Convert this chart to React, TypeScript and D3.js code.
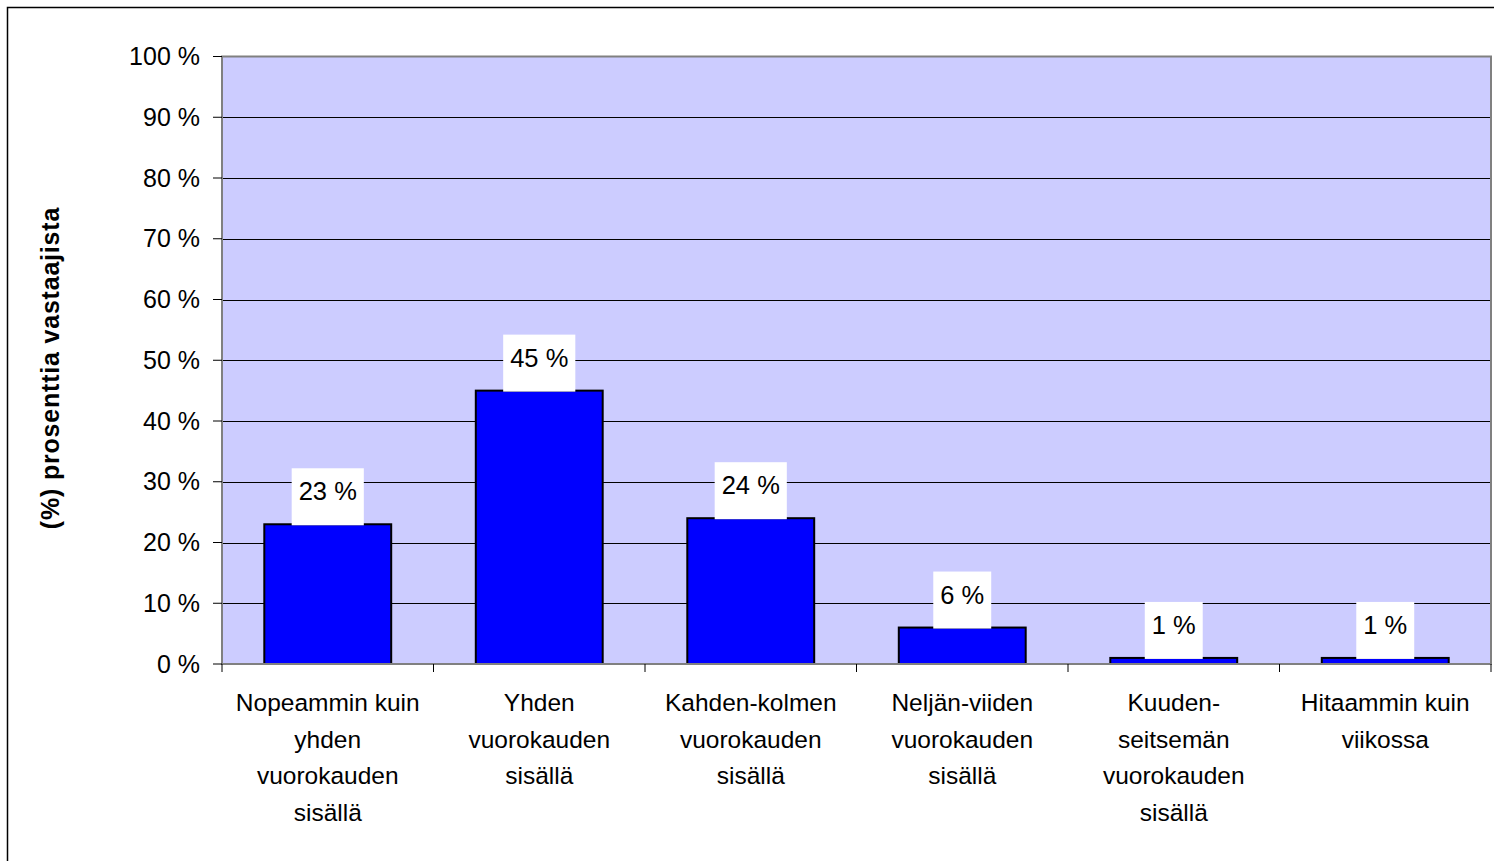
import React, { useEffect, useRef } from 'react';
import * as d3 from 'd3';

const categories = [
  ['Nopeammin kuin', 'yhden', 'vuorokauden', 'sisällä'],
  ['Yhden', 'vuorokauden', 'sisällä'],
  ['Kahden-kolmen', 'vuorokauden', 'sisällä'],
  ['Neljän-viiden', 'vuorokauden', 'sisällä'],
  ['Kuuden-', 'seitsemän', 'vuorokauden', 'sisällä'],
  ['Hitaammin kuin', 'viikossa'],
];
const values = [23, 45, 24, 6, 1, 1];
const yTicks = [0, 10, 20, 30, 40, 50, 60, 70, 80, 90, 100];
const yTitle = '(%) prosenttia vastaajista';

const App = () => {
  const ref = useRef<SVGSVGElement>(null);

  useEffect(() => {
    const svg = d3.select(ref.current);
    svg.selectAll('*').remove();

    const left = 222, right = 1491, top = 56.5, bottom = 664;
    const font = 'Arial, "Liberation Sans", sans-serif';

    // outer chart border (runs off the page right and bottom)
    svg.append('rect')
      .attr('x', 7.5).attr('y', 7.5)
      .attr('width', 1600).attr('height', 1000)
      .attr('fill', '#fff')
      .attr('stroke', '#000')
      .attr('stroke-width', 1.5);

    const x = d3.scaleBand<number>()
      .domain(values.map((d, i) => i))
      .range([left, right])
      .paddingInner(0.4)
      .paddingOuter(0.2);
    const y = d3.scaleLinear().domain([0, 100]).range([bottom, top]);
    const step = x.step();

    svg.append('rect')
      .attr('x', left).attr('y', top)
      .attr('width', right - left).attr('height', bottom - top)
      .attr('fill', '#ccccff');

    // gridlines
    svg.append('g').selectAll('line')
      .data(yTicks.filter(t => t > 0 && t < 100))
      .enter().append('line')
      .attr('x1', left).attr('x2', right)
      .attr('y1', d => Math.round(y(d)) + 0.5)
      .attr('y2', d => Math.round(y(d)) + 0.5)
      .attr('stroke', '#000')
      .attr('stroke-width', 1);

    // plot border
    svg.append('rect')
      .attr('x', left).attr('y', top)
      .attr('width', right - left).attr('height', bottom - top)
      .attr('fill', 'none')
      .attr('stroke', '#808080')
      .attr('stroke-width', 2);

    // bars
    svg.append('g').selectAll('rect')
      .data(values)
      .enter().append('rect')
      .attr('x', (d, i) => x(i)!)
      .attr('y', d => y(d))
      .attr('width', x.bandwidth())
      .attr('height', d => bottom - y(d))
      .attr('fill', '#0000ff')
      .attr('stroke', '#000')
      .attr('stroke-width', 2);

    // y axis
    const yAxis = svg.append('g');
    yAxis.append('line')
      .attr('x1', left).attr('x2', left)
      .attr('y1', top).attr('y2', bottom)
      .attr('stroke', '#808080').attr('stroke-width', 2);
    yTicks.forEach(t => {
      yAxis.append('line')
        .attr('x1', left - 9).attr('x2', left)
        .attr('y1', y(t)).attr('y2', y(t))
        .attr('stroke', '#000').attr('stroke-width', 1);
      yAxis.append('text')
        .attr('x', 200)
        .attr('y', y(t) + 8.5)
        .attr('text-anchor', 'end')
        .attr('font-family', font)
        .attr('font-size', 25)
        .attr('fill', '#000')
        .text(t + ' %');
    });

    // x axis
    const xAxis = svg.append('g');
    xAxis.append('line')
      .attr('x1', left).attr('x2', right)
      .attr('y1', bottom).attr('y2', bottom)
      .attr('stroke', '#808080').attr('stroke-width', 2);
    d3.range(values.length + 1).forEach(i => {
      const tx = left + i * step;
      xAxis.append('line')
        .attr('x1', tx).attr('x2', tx)
        .attr('y1', bottom).attr('y2', bottom + 8)
        .attr('stroke', '#000').attr('stroke-width', 1);
    });
    categories.forEach((lines, i) => {
      const cx = x(i)! + x.bandwidth() / 2;
      const t = xAxis.append('text')
        .attr('text-anchor', 'middle')
        .attr('font-family', font)
        .attr('font-size', 24.5)
        .attr('fill', '#000');
      lines.forEach((l, j) => {
        t.append('tspan').attr('x', cx).attr('y', 711 + j * 36.5).text(l);
      });
    });

    // data labels
    values.forEach((v, i) => {
      const cx = x(i)! + x.bandwidth() / 2;
      const g = svg.append('g');
      const txt = g.append('text')
        .attr('x', cx)
        .attr('y', y(v) - 24)
        .attr('text-anchor', 'middle')
        .attr('font-family', font)
        .attr('font-size', 25.5)
        .attr('fill', '#000')
        .text(v + ' %');
      const w = (txt.node() as SVGTextElement).getComputedTextLength() + 14;
      g.insert('rect', 'text')
        .attr('x', cx - w / 2)
        .attr('y', y(v) - 56)
        .attr('width', w)
        .attr('height', 57)
        .attr('fill', '#fff');
    });

    // y title
    svg.append('text')
      .attr('transform', `translate(59,368) rotate(-90)`)
      .attr('text-anchor', 'middle')
      .attr('font-family', font)
      .attr('font-size', 25)
      .attr('font-weight', 'bold')
      .attr('letter-spacing', 0.8)
      .attr('fill', '#000')
      .text(yTitle);
  }, []);

  return (
    <svg ref={ref} width={1494} height={861}
      style={{ position: 'absolute', left: 0, top: 0, background: '#fff' }} />
  );
};

export default App;
